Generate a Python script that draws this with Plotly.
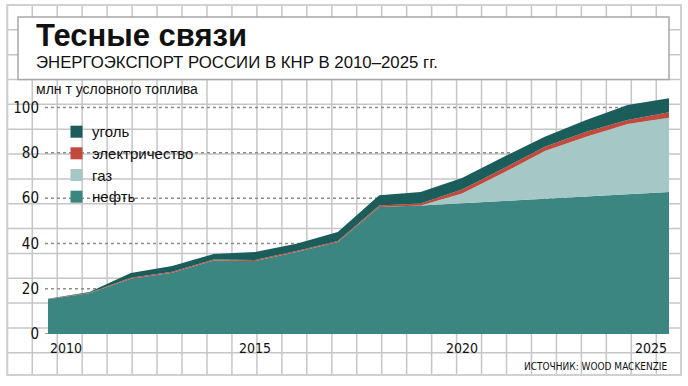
import plotly.graph_objects as go

# ---- data ----
years = list(range(2010, 2026))
oil = [15.4, 18.0, 24.4, 27.1, 32.5, 32.2, 36.2, 40.6, 56.1, 56.7, 57.7, 58.7, 59.7, 60.7, 61.7, 62.7]
gas = [0, 0, 0, 0, 0, 0, 0, 0, 0, 0, 4.3, 12.5, 21.1, 26.4, 31.0, 32.8]
electricity = [0.1, 0.2, 0.4, 0.4, 0.4, 0.5, 0.5, 0.5, 0.6, 0.9, 1.8, 1.9, 1.9, 2.2, 1.8, 2.4]
coal = [0.1, 0.3, 2.1, 2.5, 2.4, 3.5, 3.2, 3.9, 4.6, 5.1, 5.1, 5.1, 4.4, 5.2, 6.6, 6.2]

series_names = ["нефть", "газ", "электричество", "уголь"]
series_values = [oil, gas, electricity, coal]
series_colors = ["#3c8682", "#a5c7c5", "#c24a3d", "#1b5d5b"]

y_ticks = [0, 20, 40, 60, 80, 100]
x_tick_labels = [2010, 2015, 2020, 2025]

title = "Тесные связи"
subtitle = "ЭНЕРГОЭКСПОРТ РОССИИ В КНР В 2010–2025 гг."
unit_label = "млн т условного топлива"
source = "ИСТОЧНИК: WOOD MACKENZIE"

# ---- layout geometry (pixels) ----
W, H = 688, 386
PL, PR = 48, 669      # plot area left/right
PT, PB = 94, 334      # plot area top/bottom
YMAX = 106


def px(xp):
    return (xp - PL) / (PR - PL)


def py(yp):
    return (PB - yp) / (PB - PT)


NARROW = "DejaVu Sans Condensed, Liberation Sans Narrow, Liberation Sans, sans-serif"
SANS = "Liberation Sans, Arial, sans-serif"

fig = go.Figure()
for name, vals, col in zip(series_names, series_values, series_colors):
    fig.add_trace(go.Scatter(
        x=years, y=vals, name=name, stackgroup="one", mode="none",
        fillcolor=col, line=dict(width=0), hoverinfo="x+y+name",
    ))

shapes = []
grid_col = "#c6c6c6"
# background square grid
for k in range(28):
    x = 7.3 + 24.96 * k
    shapes.append(dict(type="line", xref="paper", yref="paper", layer="below",
                       x0=px(x), x1=px(x), y0=py(5), y1=py(375),
                       line=dict(color=grid_col, width=1.5)))
for k in range(15):
    y = 5 + 24.84 * k
    shapes.append(dict(type="line", xref="paper", yref="paper", layer="below",
                       x0=px(7.3), x1=px(681), y0=py(y), y1=py(y),
                       line=dict(color=grid_col, width=1.5)))
# outer frame
shapes.append(dict(type="rect", xref="paper", yref="paper", layer="below",
                   x0=px(7.3), x1=px(681), y0=py(5), y1=py(375),
                   line=dict(color="#d0d0d0", width=2)))
# title box
shapes.append(dict(type="rect", xref="paper", yref="paper", layer="below",
                   x0=px(18), x1=px(669), y0=py(17), y1=py(79.5),
                   fillcolor="white", line=dict(color="#a8a8a8", width=1.5)))
# dotted value lines
for v in y_ticks:
    shapes.append(dict(type="line", xref="paper", yref="y", layer="below",
                       x0=px(45), x1=1, y0=v, y1=v,
                       line=dict(color="#8c8c8c", width=1.5, dash="dot")))

annotations = []
annotations.append(dict(text="<b>" + title + "</b>", xref="paper", yref="paper",
                        x=px(34), y=py(36), xanchor="left", yanchor="middle",
                        showarrow=False, font=dict(family=SANS, size=31, color="#111")))
annotations.append(dict(text=subtitle, xref="paper", yref="paper",
                        x=px(34), y=py(62.5), xanchor="left", yanchor="middle",
                        showarrow=False, font=dict(family=SANS, size=16.8, color="#111")))
annotations.append(dict(text=unit_label, xref="paper", yref="paper",
                        x=px(34), y=py(89), xanchor="left", yanchor="middle",
                        showarrow=False, font=dict(family=SANS, size=14, color="#111")))
annotations.append(dict(text=source, xref="paper", yref="paper",
                        x=px(670), y=py(366), xanchor="right", yanchor="middle",
                        showarrow=False, font=dict(family=NARROW, size=10, color="#111")))

# x tick labels
for yr in x_tick_labels:
    anchor = "left" if yr == x_tick_labels[0] else ("right" if yr == x_tick_labels[-1] else "center")
    annotations.append(dict(text=str(yr), xref="x", yref="paper", x=yr, y=py(348),
                            xanchor=anchor, yanchor="middle", showarrow=False,
                            font=dict(family=NARROW, size=14, color="#111")))

# legend (top to bottom: уголь, электричество, газ, нефть)
leg_y = [131.7, 153.3, 175, 196.7]
for i, idx in enumerate([3, 2, 1, 0]):
    yc = leg_y[i]
    shapes.append(dict(type="rect", xref="paper", yref="paper",
                       x0=px(70.5), x1=px(82.5), y0=py(yc - 6), y1=py(yc + 6),
                       fillcolor=series_colors[idx], line=dict(width=0)))
    annotations.append(dict(text=series_names[idx], xref="paper", yref="paper",
                            x=px(90), y=py(yc), xanchor="left", yanchor="middle",
                            showarrow=False, font=dict(family=SANS, size=15, color="#111")))

fig.update_layout(
    width=W, height=H,
    margin=dict(l=PL, r=W - PR, t=PT, b=H - PB, pad=0),
    paper_bgcolor="white", plot_bgcolor="rgba(0,0,0,0)",
    showlegend=False,
    xaxis=dict(range=[2010, 2025], showgrid=False, zeroline=False, showticklabels=False,
               showline=False, ticks=""),
    yaxis=dict(range=[0, YMAX], tickvals=y_ticks, showgrid=False, zeroline=False,
               showline=False, ticks="", ticklabelstandoff=8,
               tickfont=dict(family=NARROW, size=15, color="#111")),
    shapes=shapes, annotations=annotations,
)

fig.write_html("out.html", config={"displayModeBar": False},
               post_script="document.body.style.margin='0';document.body.style.overflow='hidden';")
